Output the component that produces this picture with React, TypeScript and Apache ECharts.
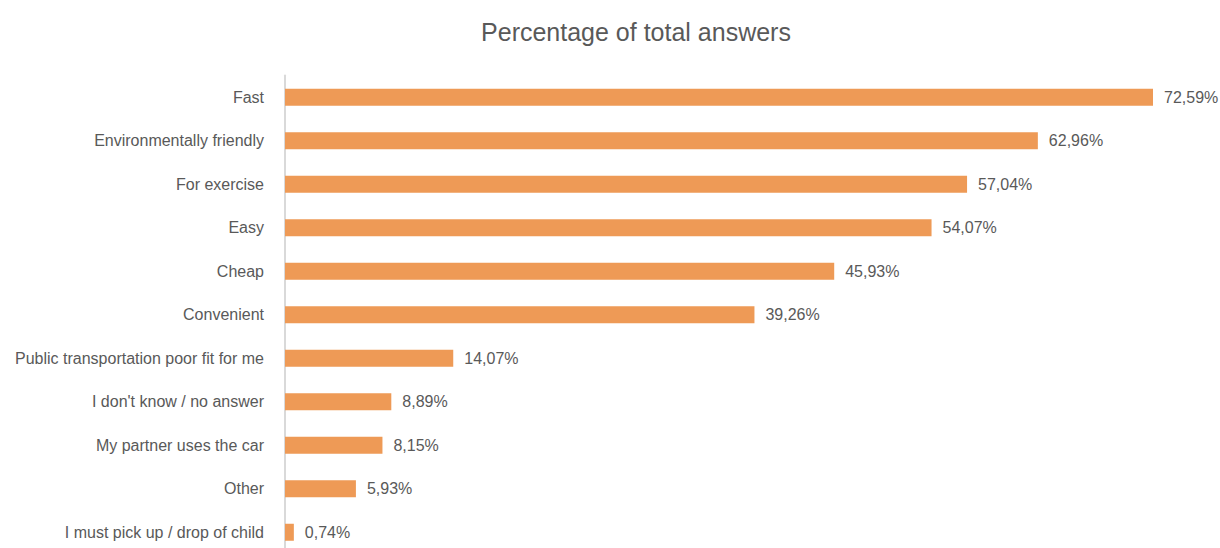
import React, { useEffect, useRef } from "react";
import * as echarts from "echarts";

const categories = [
  "Fast",
  "Environmentally friendly",
  "For exercise",
  "Easy",
  "Cheap",
  "Convenient",
  "Public transportation poor fit for me",
  "I don't know / no answer",
  "My partner uses the car",
  "Other",
  "I must pick up / drop of child",
];
const values = [72.59, 62.96, 57.04, 54.07, 45.93, 39.26, 14.07, 8.89, 8.15, 5.93, 0.74];
const titleText = "Percentage of total answers";

const FONT = "'Liberation Sans', Arial, sans-serif";

export default function App() {
  const ref = useRef<HTMLDivElement>(null);
  useEffect(() => {
    if (!ref.current) return;
    const chart = echarts.init(ref.current, null, { renderer: "svg" });
    chart.setOption({
      animation: false,
      title: {
        text: titleText,
        left: 631,
        top: 14,
        textAlign: "center",
        textStyle: { fontFamily: FONT, fontSize: 25, fontWeight: "normal", color: "#595959" },
      },
      grid: { left: 285, top: 75.5, width: 868 / 72.59 * 75, height: 478.5, containLabel: false },
      xAxis: { type: "value", min: 0, max: 75, show: false },
      yAxis: {
        type: "category",
        data: categories,
        inverse: true,
        axisLine: { show: true, lineStyle: { color: "#D9D9D9", width: 2 } },
        axisTick: { show: false },
        axisLabel: {
          margin: 21,
          fontFamily: FONT,
          fontSize: 16,
          color: "#595959",
        },
      },
      series: [
        {
          type: "bar",
          data: values,
          barWidth: 17,
          itemStyle: { color: "#EE9A56" },
          label: {
            show: true,
            position: "right",
            distance: 11,
            fontFamily: FONT,
            fontSize: 16,
            color: "#595959",
            formatter: (p: any) => p.value.toFixed(2).replace(".", ",") + "%",
          },
        },
      ],
    });
    return () => chart.dispose();
  }, []);
  return (
    <div
      ref={ref}
      style={{ position: "fixed", left: 0, top: 0, width: 1220, height: 560, background: "#fff" }}
    />
  );
}
